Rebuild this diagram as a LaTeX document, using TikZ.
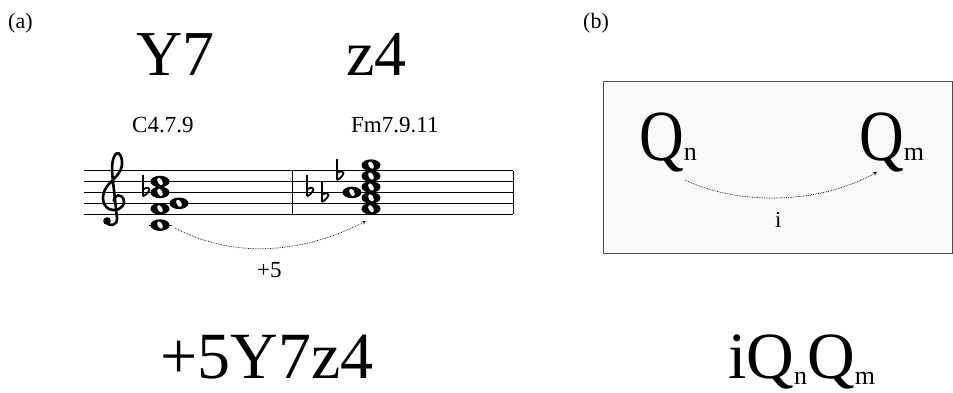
\documentclass[tikz,border=0pt]{standalone}
\usepackage{fontspec}
\setmainfont{Liberation Serif}
\usetikzlibrary{calc}

\newcommand{\fsz}[1]{\fontsize{#1}{#1}\selectfont}

\tikzset{
	txt/.style={anchor=base west,inner sep=0},
	wnote/.pic={
		\fill (0,0) ellipse (9.5 and 5.8);
		\fill[white,rotate=-60] (0,0) ellipse (4.0 and 2.3);
	},
	flatsign/.pic={
		\draw[line width=1.4pt] (0,-17) -- (0,4);
		\draw[line width=1.8pt] (0,4) .. controls (9,-1) and (8,-8) .. (0,-3);
	},
}

\begin{document}
\begin{tikzpicture}[x=1pt,y=-1pt]
	\useasboundingbox (0,0) rectangle (953,392);

	% part (a)
	\node[txt,font=\fsz{22}] (labA) at (8,28) {(a)};
	\node[txt,font=\fsz{64}] (symY) at (136,75) {Y7};
	\node[txt,font=\fsz{64}] (symZ) at (346,75) {z4};
	\node[txt,font=\fsz{23}] (chordC) at (132,132) {C4.7.9};
	\node[txt,font=\fsz{23}] (chordF) at (351,132) {Fm7.9.11};

	\foreach \k in {0,...,4}
		\draw[line width=0.7pt] (84,170.6+10.9*\k) -- (513,170.6+10.9*\k);
	\draw[line width=0.8pt] (292.5,170.6) -- (292.5,214.2);
	\draw[line width=0.8pt] (513,170.6) -- (513,214.2);

	% clef
	\draw[line width=2.6pt,line cap=round] (114,201) .. controls (113,194) and (123,193) .. (124,201)
		.. controls (124,209) and (115,212) .. (109,209)
		.. controls (101,205) and (101,192) .. (109,184)
		.. controls (117,176) and (123,170) .. (122,161)
		.. controls (121,153) and (117,150) .. (114,157)
		.. controls (111,164) and (112,175) .. (114,190)
		-- (117,218) .. controls (118,226) and (108,227) .. (107,222);
	\fill (107,221) circle (3.8);

	% first chord
	\draw[line width=0.8pt] (149,225.1) -- (172,225.1);
	\foreach \p in {2,4,7,10}
		\pic at (160,170.6+5.45*\p) {wnote};
	\pic at (179,170.6+5.45*6) {wnote};
	\pic at (143,192.4) {flatsign};

	% second chord
	\foreach \p in {-1,1,3,5,7}
		\pic at (371,170.6+5.45*\p) {wnote};
	\pic at (352,192.4) {wnote};
	\pic at (307,192.4) {flatsign};
	\pic at (322,197.9) {flatsign};
	\pic at (337,176.1) {flatsign};

	\coordinate (srcC) at (175,228);
	\coordinate (dstF) at (366,221);
	\draw[densely dotted,line width=0.7pt,-stealth] (srcC) .. controls (240,262) and (310,250) .. (dstF);
	\node[txt,font=\fsz{23}] (shiftlbl) at (257,277) {+5};

	% part (b)
	\node[txt,font=\fsz{22}] (labB) at (583,28) {(b)};
	\draw[draw=gray!60!black,fill=gray!4,line width=1pt] (603,81) rectangle (952,253);
	\node[txt,font=\fsz{72}] (Qn) at (639,160) {\scalebox{0.86}[1]{Q}\fsz{26}n};
	\node[txt,font=\fsz{72}] (Qm) at (859,160) {\scalebox{0.86}[1]{Q}\fsz{26}m};
	\coordinate (srcQ) at (685,180);
	\coordinate (dstQ) at (877,172);
	\draw[densely dotted,line width=0.7pt,-stealth] (srcQ) .. controls (740,206) and (820,204) .. (dstQ);
	\node[txt,font=\fsz{23}] (ilbl) at (775,227) {i};

	% results
	\node[txt,font=\fsz{66}] (codeA) at (160,378) {+5Y7z4};
	\node[txt,font=\fsz{66}] (codeB) at (728,378) {iQ\raisebox{-6pt}{\fsz{26}n}Q\raisebox{-6pt}{\fsz{26}m}};
\end{tikzpicture}
\end{document}
